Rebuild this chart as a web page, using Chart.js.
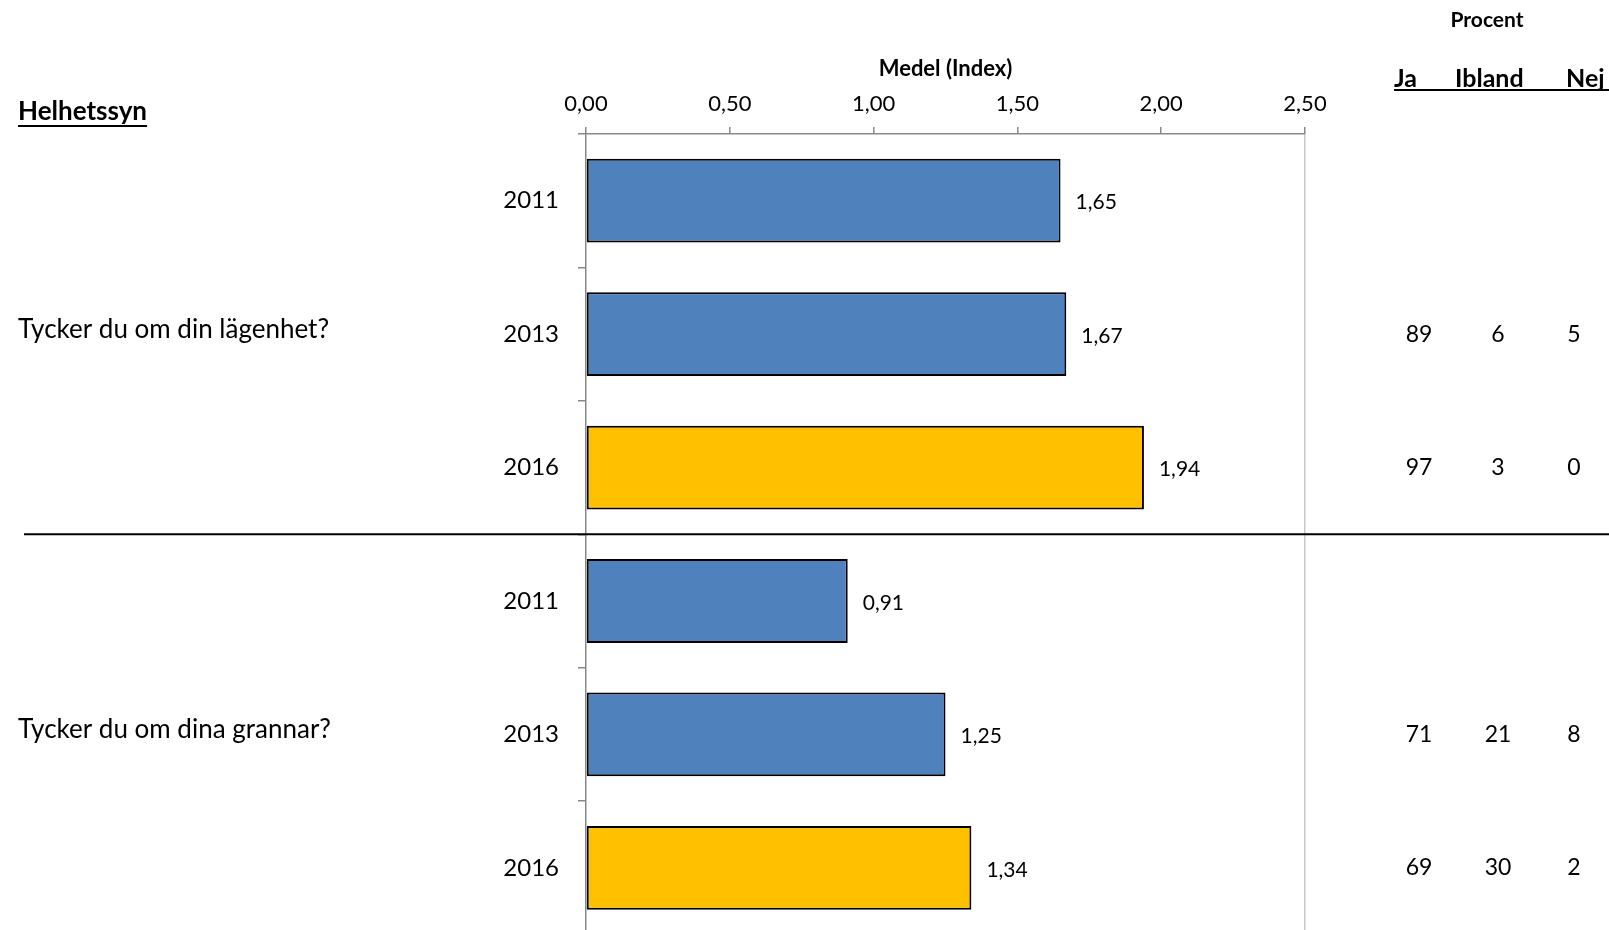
<!DOCTYPE html>
<html lang="sv">
<head>
<meta charset="utf-8">
<title>Helhetssyn</title>
<script src="https://cdn.jsdelivr.net/npm/chart.js@4.4.1/dist/chart.umd.min.js"></script>
<style>
  html, body { margin: 0; padding: 0; background: #fff; overflow: hidden; }
  #wrap { width: 1609px; height: 968px; }
</style>
</head>
<body>
<div id="wrap"><canvas id="medelChart" width="1609" height="968"></canvas></div>
<script>
// Medelvärden (index) per fråga och år
const years = ['2011', '2013', '2016', '2011', '2013', '2016'];
const medel = [1.65, 1.67, 1.94, 0.91, 1.25, 1.34];
const questions = ['Tycker du om din lägenhet?', 'Tycker du om dina grannar?'];
const questionRow = [1, 4];

// Procentfördelning (Ja / Ibland / Nej), tom rad för 2011
const ja = [null, 89, 97, null, 71, 69];
const ibland = [null, 6, 3, null, 21, 30];
const nej = [null, 5, 0, null, 8, 2];
const procentCols = ['Ja', 'Ibland', 'Nej'];

const xMin = 0, xMax = 2.5, xStep = 0.5;

const BLUE = '#4F81BD';
const YELLOW = '#FFC000';
const FONT = 'Lato, "Open Sans", sans-serif';

function fmt(v) {
    return v.toFixed(2).replace('.', ',');
}

// Text, rubriker och tabell ritas efter diagrammet
const overlay = {
    id: 'overlay',
    afterDraw(chart) {
        const ctx = chart.ctx;
        const y = chart.scales.y;
        const meta = chart.getDatasetMeta(0);
        ctx.save();
        ctx.fillStyle = '#000';
        ctx.textBaseline = 'middle';

        // värden vid staplarna
        ctx.font = '21px ' + FONT;
        ctx.textAlign = 'left';
        meta.data.forEach((bar, i) => {
            ctx.fillText(fmt(medel[i]), bar.x + 15, bar.y + 2);
        });

        // skiljelinje mellan frågorna
        const sepY = (y.getPixelForValue(2) + y.getPixelForValue(3)) / 2;
        ctx.strokeStyle = '#000';
        ctx.lineWidth = 2;
        ctx.beginPath();
        ctx.moveTo(24, sepY);
        ctx.lineTo(chart.width, sepY);
        ctx.stroke();

        // frågetexter
        ctx.font = '26px ' + FONT;
        questions.forEach((q, i) => {
            ctx.fillText(q, 18, y.getPixelForValue(questionRow[i]) - 5);
        });

        // rubrik till vänster
        ctx.font = 'bold 26px ' + FONT;
        ctx.fillText('Helhetssyn', 18, 112);
        const hw = ctx.measureText('Helhetssyn').width;
        ctx.lineWidth = 2;
        ctx.beginPath();
        ctx.moveTo(18, 126);
        ctx.lineTo(18 + hw, 126);
        ctx.stroke();

        // procenttabell
        ctx.font = 'bold 21px ' + FONT;
        ctx.textAlign = 'center';
        ctx.fillText('Procent', 1487, 20);

        ctx.font = 'bold 25px ' + FONT;
        ctx.textAlign = 'left';
        const headX = [1394, 1455, 1566];
        procentCols.forEach((c, i) => ctx.fillText(c, headX[i], 79));
        ctx.beginPath();
        ctx.moveTo(1394, 90);
        ctx.lineTo(chart.width, 90);
        ctx.stroke();

        ctx.font = '23px ' + FONT;
        ctx.textAlign = 'center';
        const colX = [1419, 1498, 1574];
        [ja, ibland, nej].forEach((col, c) => {
            col.forEach((v, i) => {
                if (v === null) return;
                ctx.fillText(String(v), colX[c], y.getPixelForValue(i));
            });
        });
        ctx.restore();
    }
};

const ctx = document.getElementById('medelChart').getContext('2d');
const medelChart = new Chart(ctx, {
    type: 'bar',
    data: {
        labels: years,
        datasets: [{
            data: medel,
            backgroundColor: years.map(y => y === '2016' ? YELLOW : BLUE),
            borderColor: '#000',
            borderWidth: 2,
            borderSkipped: false,
            barPercentage: 0.628,
            categoryPercentage: 1
        }]
    },
    options: {
        indexAxis: 'y',
        responsive: false,
        animation: false,
        layout: {
            padding: { left: 496, right: 304, top: 0, bottom: 10 }
        },
        plugins: {
            legend: { display: false },
            tooltip: { enabled: false }
        },
        scales: {
            x: {
                type: 'linear',
                position: 'top',
                min: xMin,
                max: xMax,
                afterFit: s => { s.height = 134; },
                ticks: {
                    stepSize: xStep,
                    padding: 10,
                    color: '#000',
                    font: { family: FONT, size: 22 },
                    callback: v => fmt(v)
                },
                grid: {
                    color: c => (c.tick && c.tick.value === xMax) ? '#c8c8c8' : 'rgba(0,0,0,0)',
                    tickColor: '#888',
                    tickLength: 7,
                    lineWidth: 1.5
                },
                border: { display: true, color: '#888', width: 1.5 },
                title: {
                    display: true,
                    text: 'Medel (Index)',
                    color: '#000',
                    font: { family: FONT, size: 22, weight: 'bold' },
                    padding: { top: 56, bottom: 0 }
                }
            },
            y: {
                afterFit: s => { s.width = 90; },
                ticks: {
                    padding: 19,
                    color: '#000',
                    font: { family: FONT, size: 24 }
                },
                grid: {
                    offset: true,
                    drawOnChartArea: false,
                    color: '#888',
                    tickLength: 8,
                    lineWidth: 1.5
                },
                border: { display: true, color: '#888', width: 1.5 }
            }
        }
    },
    plugins: [overlay]
});
</script>
</body>
</html>
